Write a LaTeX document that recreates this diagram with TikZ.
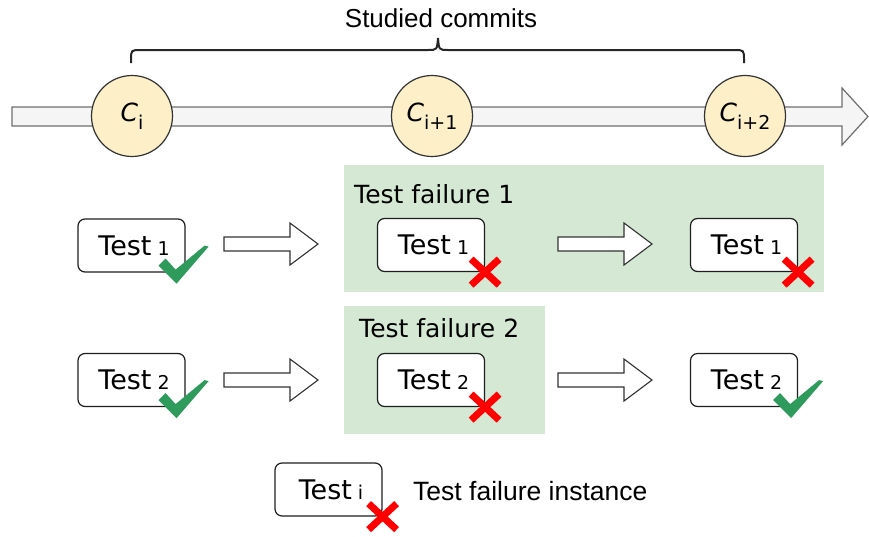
\documentclass[tikz,border=0pt]{standalone}
\usepackage{fontspec}
\setmainfont{DejaVu Sans}
\newfontfamily\helv{Liberation Sans}
\usetikzlibrary{calc}

\definecolor{commitfill}{HTML}{FDF0C9}
\definecolor{commitline}{HTML}{333333}
\definecolor{barfill}{HTML}{F5F5F5}
\definecolor{barline}{HTML}{6E6E6E}
\definecolor{failzone}{HTML}{D5E8D4}
\definecolor{okgreen}{RGB}{46,155,92}
\definecolor{badred}{RGB}{255,0,0}
\definecolor{boxline}{HTML}{1E1E1E}

\tikzset{
  commit/.style={circle, draw=commitline, line width=1.2pt, fill=commitfill,
    minimum size=81pt, inner sep=0pt},
  testbox/.style={draw=boxline, line width=1.2pt, fill=white, rounded corners=7pt,
    minimum width=107pt, minimum height=53pt, inner sep=0pt},
  zone/.style={fill=failzone, inner sep=0pt},
  zonelabel/.style={anchor=base west, inner sep=0pt, font=\fontsize{25}{25}\selectfont},
  bracestroke/.style={draw=black!85, line width=2pt},
  arrowline/.style={draw=black!80, line width=1.1pt, fill=white, line join=miter},
  pics/blockarr/.style={code={
    \draw[arrowline] (0,-7) -- (66,-7) -- (66,-21) -- (94,0) -- (66,21) -- (66,7) -- (0,7) -- cycle;}},
  pics/okmark/.style={code={
    \fill[okgreen] (-27,-7) -- (-20,-14) -- (-10,-3) -- (19,-27) -- (23,-26) -- (-9,11) -- cycle;}},
  pics/badmark/.style={code={
    \draw[badred, line width=7pt] (-14,-13) -- (14,13) (-14,13) -- (14,-13);}},
}

\newcommand{\testlabel}[1]{\hspace*{5pt}{\fontsize{27}{27}\selectfont Test}\hspace{6pt}{\fontsize{19}{19}\selectfont #1}}
\newcommand{\commitlabel}[1]{{\fontsize{25}{25}\selectfont\itshape C}\raisebox{-8pt}{\fontsize{19}{19}\selectfont #1}}

\begin{document}
\begin{tikzpicture}[x=1pt, y=-1pt]
\useasboundingbox (0,0) rectangle (869,536);

% timeline bar with its arrow head
\draw[fill=barfill, draw=barline, line width=1.2pt, line join=miter]
  (12,107) -- (842,107) -- (842,88) -- (868,116.5) -- (842,145) -- (842,126) -- (12,126) -- cycle;

% commits on the timeline
\node[commit] (c1) at (132,116) {\commitlabel{i}};
\node[commit] (c2) at (432,116) {\commitlabel{i+1}};
\node[commit] (c3) at (745,116) {\commitlabel{i+2}};

% brace over the studied commits
\draw[bracestroke] (131,63) -- (131,60) .. controls (131,50) .. (141,50) -- (428,50)
  .. controls (437,50) .. (438,38) .. controls (439,50) .. (448,50) -- (734,50)
  .. controls (744,50) .. (744,60) -- (744,63);
\node[anchor=base, inner sep=0pt, font=\helv\fontsize{26}{26}\selectfont] (studied) at (441,27) {Studied commits};

% failure zones
\node[zone, minimum width=480pt, minimum height=127pt] (zone1) at (584,228.5) {};
\node[zone, minimum width=201pt, minimum height=128pt] (zone2) at (444.5,370) {};
\node[zonelabel] (zl1) at (354,203) {Test failure 1};
\node[zonelabel] (zl2) at (359,337) {Test failure 2};

% test 1 across the commits
\node[testbox] (t11) at (131.5,245.5) {\testlabel{1}};
\node[testbox] (t12) at (431,245) {\testlabel{1}};
\node[testbox] (t13) at (744,245) {\testlabel{1}};
\path (224,244) pic {blockarr};
\path (558,244) pic {blockarr};
\path (t11.south east) pic {okmark};
\path (t12.south east) pic {badmark};
\path (t13.south east) pic {badmark};

% test 2 across the commits
\node[testbox] (t21) at (131.5,380) {\testlabel{2}};
\node[testbox] (t22) at (431,380) {\testlabel{2}};
\node[testbox] (t23) at (744,380) {\testlabel{2}};
\path (224,380) pic {blockarr};
\path (558,380) pic {blockarr};
\path (t21.south east) pic {okmark};
\path (t22.south east) pic {badmark};
\path ($(t23.south east)+(2,0)$) pic {okmark};

% legend
\node[testbox] (leg) at (328.5,489.5) {\testlabel{i}};
\path (leg.south east) pic {badmark};
\node[anchor=base west, inner sep=0pt, font=\helv\fontsize{26.5}{26.5}\selectfont] (legtext) at (413,500) {Test failure instance};
\end{tikzpicture}
\end{document}
